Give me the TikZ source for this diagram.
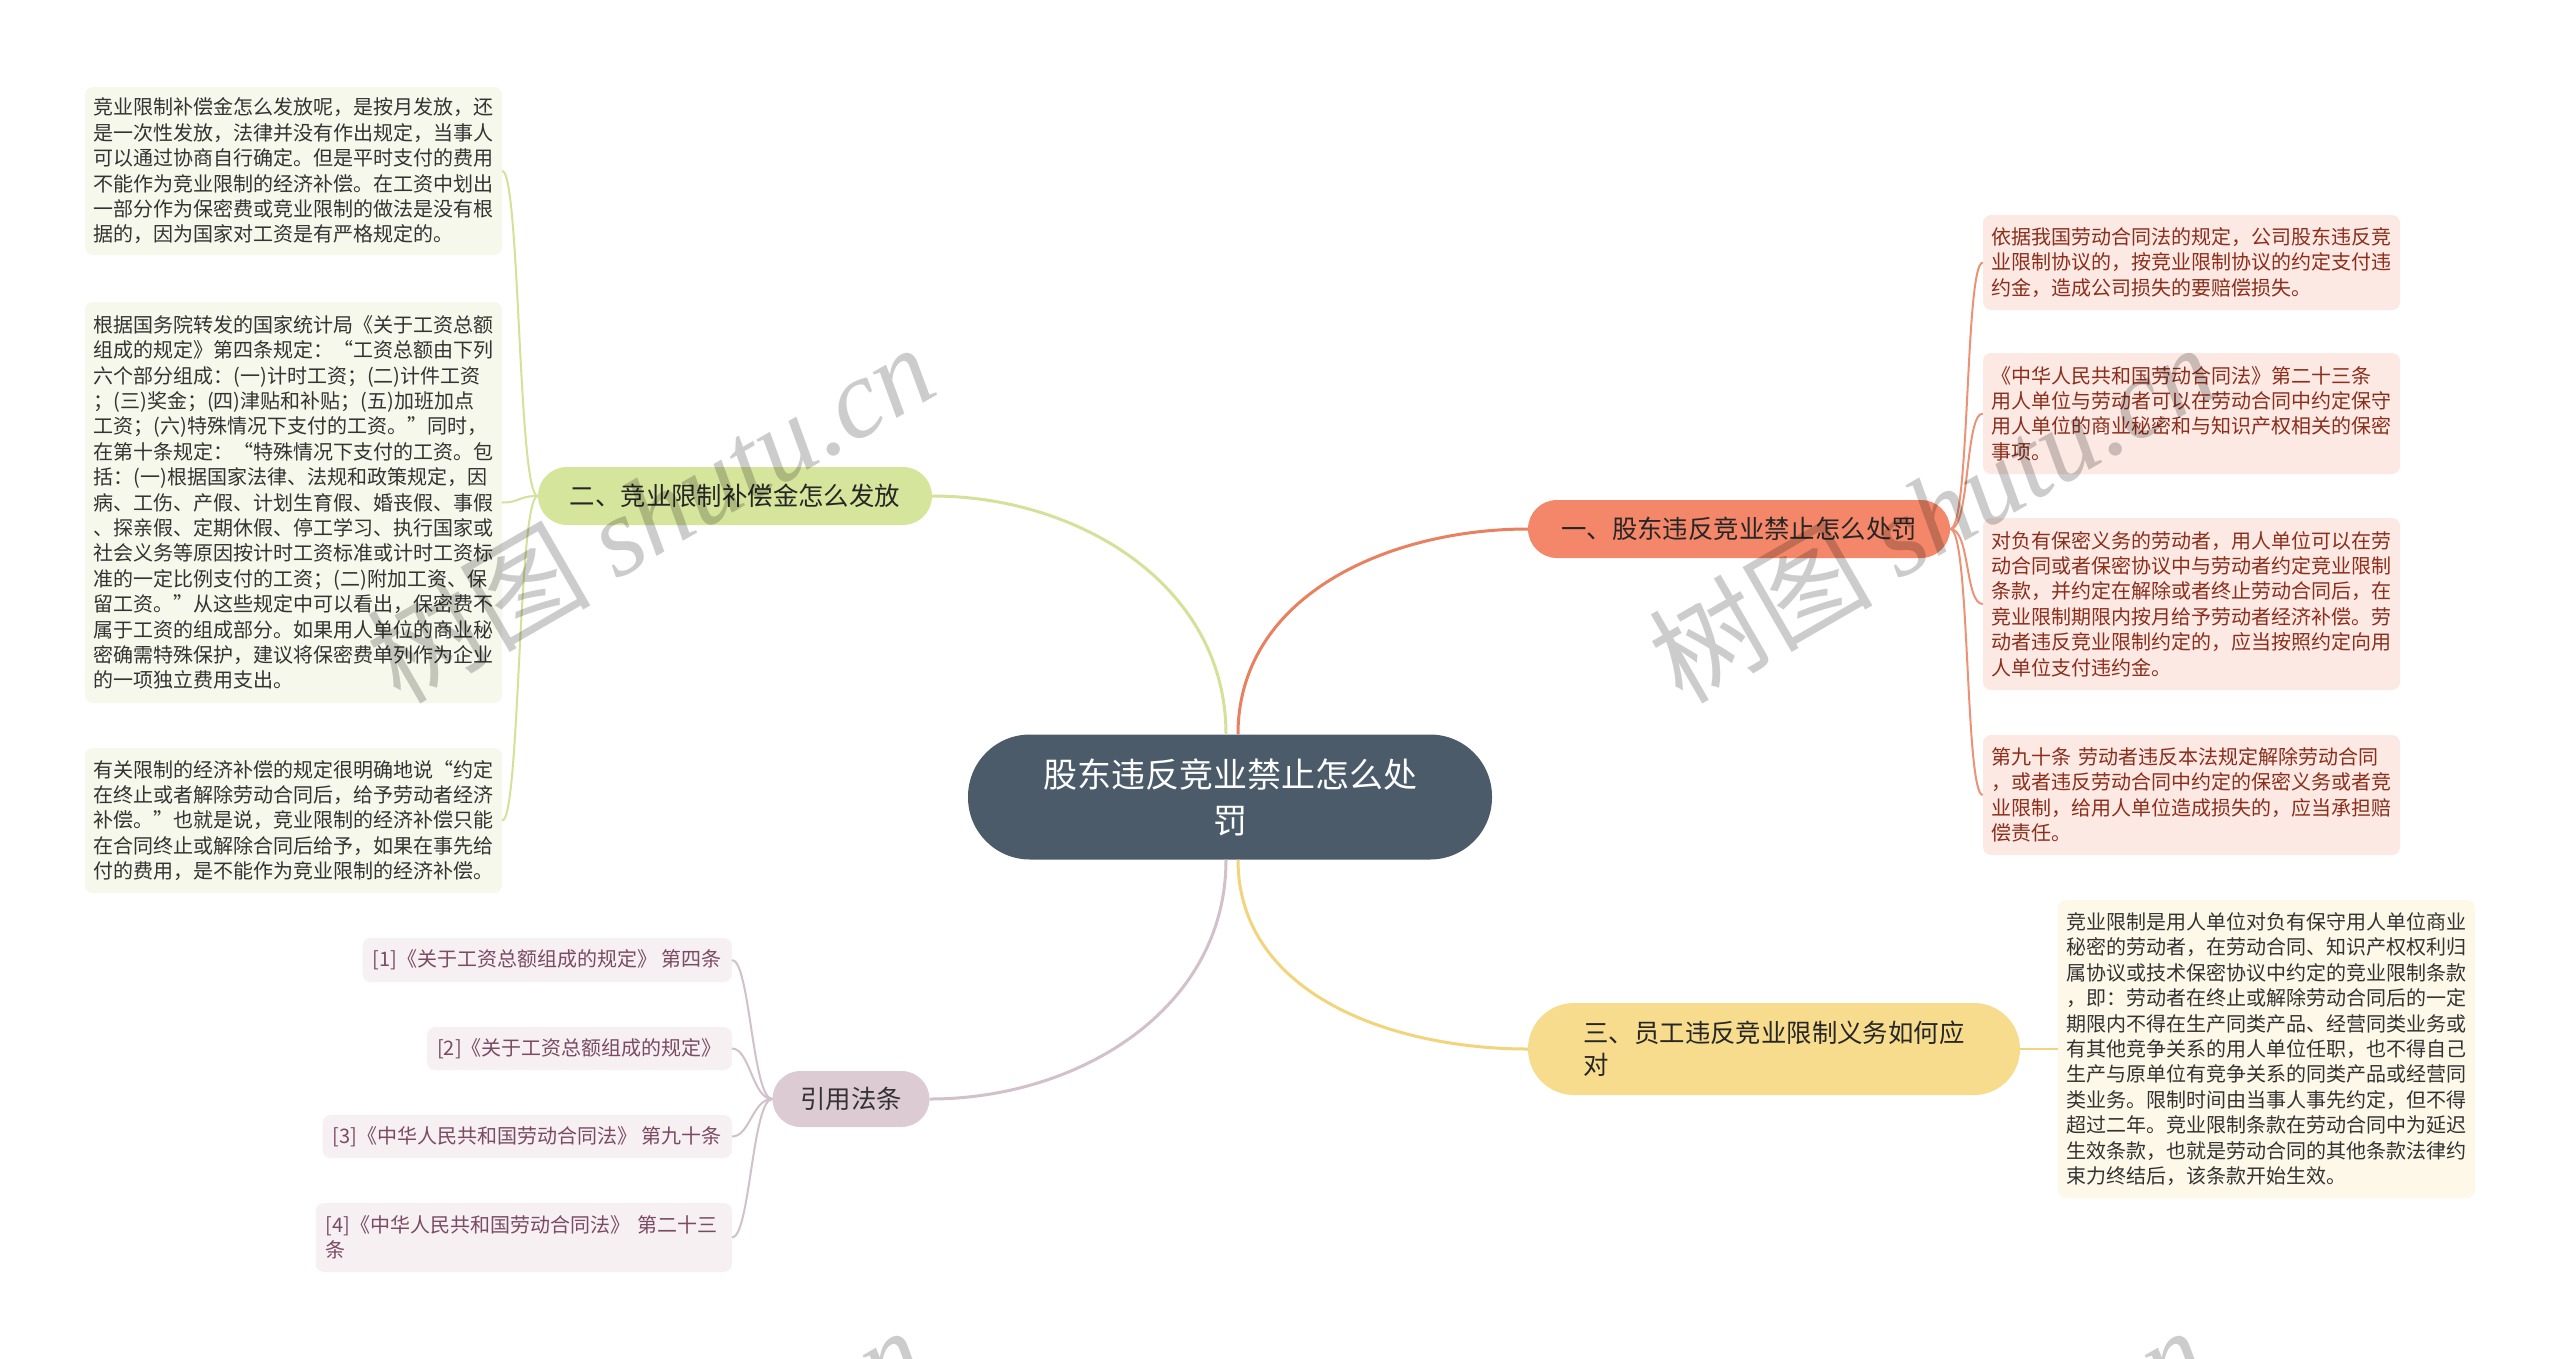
\documentclass[tikz,border=0pt]{standalone}
\usepackage{fontspec}
\setmainfont{Noto Sans CJK SC}
\newfontfamily\wmlatin{Liberation Serif}
\definecolor{centerfill}{HTML}{4B5B6A}
\definecolor{bonefill}{HTML}{F4876A}
\definecolor{btwofill}{HTML}{D6E59C}
\definecolor{bthreefill}{HTML}{F6DC8C}
\definecolor{bfourfill}{HTML}{DDCBD4}
\definecolor{lineone}{HTML}{E9805F}
\definecolor{linetwo}{HTML}{D3E199}
\definecolor{linethree}{HTML}{F2D47C}
\definecolor{linefour}{HTML}{D2C0CA}
\definecolor{greenleaf}{HTML}{F5F8EA}
\definecolor{pinkleaf}{HTML}{FCE9E4}
\definecolor{creamleaf}{HTML}{FEF8E9}
\definecolor{mauveleaf}{HTML}{F6F0F3}
\definecolor{darktext}{HTML}{333333}
\definecolor{redtext}{HTML}{8B2E1C}
\definecolor{mauvetext}{HTML}{7A4B62}
\tikzset{
  hub/.style={fill=centerfill, text=white, rounded corners=62pt, minimum width=524pt, minimum height=125pt, align=center, inner sep=0pt, font=\fontsize{34}{46}\selectfont},
  branch/.style={rounded corners=29pt, minimum height=58pt, inner sep=0pt, font=\fontsize{25.4}{32}\selectfont},
  leafbox/.style={rounded corners=8pt, inner xsep=8.5pt, inner ysep=0pt, text width=400pt, align=left, font=\fontsize{20}{25.4}\selectfont},
  gleaf/.style={leafbox, fill=greenleaf, text=darktext},
  pleaf/.style={leafbox, fill=pinkleaf, text=redtext},
  cleaf/.style={leafbox, fill=creamleaf, text=darktext},
  refbox/.style={rounded corners=8pt, inner xsep=10pt, inner ysep=0pt, fill=mauveleaf, text=mauvetext, align=left, anchor=east, font=\fontsize{20}{25.4}\selectfont},
  mainline/.style={line width=3pt},
  subline/.style={line width=2pt},
  wm/.style={text=black, opacity=0.2, font=\fontsize{112}{112}\selectfont, inner sep=0pt, rotate=30}
}
\begin{document}
\begin{tikzpicture}[x=1pt,y=-1pt]
\useasboundingbox (0,0) rectangle (2560,1358);
\fill[white] (0,0) rectangle (2560,1358);

% main node and branches
\node[hub] (c) at (1230,797) {股东违反竞业禁止怎么处\\罚};
\node[branch, fill=bonefill, text={black!85}, minimum width=422pt] (b1) at (1739,529) {一、股东违反竞业禁止怎么处罚};
\node[branch, fill=btwofill, text={black!85}, minimum width=394pt] (b2) at (735,496) {二、竞业限制补偿金怎么发放};
\node[branch, fill=bthreefill, text={black!85}, minimum width=492pt, minimum height=92pt, rounded corners=46pt, align=left] (b3) at (1774,1049) {三、员工违反竞业限制义务如何应\\对};
\node[branch, fill=bfourfill, text={black!80}, minimum width=157pt, minimum height=56pt, rounded corners=28pt] (b4) at (851,1099) {引用法条};

% main connectors
\draw[mainline, lineone] ([xshift=8pt]c.north) to[out=90,in=180] (b1.west);
\draw[mainline, linetwo] ([xshift=-4pt]c.north) to[out=90,in=0] (b2.east);
\draw[mainline, linethree] ([xshift=8pt]c.south) to[out=-90,in=180] (b3.west);
\draw[mainline, linefour] ([xshift=-4pt]c.south) to[out=-90,in=0] (b4.east);

% left leaves
\node[gleaf, minimum height=168pt] (l1) at (293.5,171) {竞业限制补偿金怎么发放呢，是按月发放，还\\是一次性发放，法律并没有作出规定，当事人\\可以通过协商自行确定。但是平时支付的费用\\不能作为竞业限制的经济补偿。在工资中划出\\一部分作为保密费或竞业限制的做法是没有根\\据的，因为国家对工资是有严格规定的。};
\node[gleaf, minimum height=401pt] (l2) at (293.5,502.5) {根据国务院转发的国家统计局《关于工资总额\\组成的规定》第四条规定：“工资总额由下列\\六个部分组成：(一)计时工资；(二)计件工资\\；(三)奖金；(四)津贴和补贴；(五)加班加点\\工资；(六)特殊情况下支付的工资。”同时，\\在第十条规定：“特殊情况下支付的工资。包\\括：(一)根据国家法律、法规和政策规定，因\\病、工伤、产假、计划生育假、婚丧假、事假\\、探亲假、定期休假、停工学习、执行国家或\\社会义务等原因按计时工资标准或计时工资标\\准的一定比例支付的工资；(二)附加工资、保\\留工资。”从这些规定中可以看出，保密费不\\属于工资的组成部分。如果用人单位的商业秘\\密确需特殊保护，建议将保密费单列作为企业\\的一项独立费用支出。};
\node[gleaf, minimum height=145pt] (l3) at (293.5,820.5) {有关限制的经济补偿的规定很明确地说“约定\\在终止或者解除劳动合同后，给予劳动者经济\\补偿。”也就是说，竞业限制的经济补偿只能\\在合同终止或解除合同后给予，如果在事先给\\付的费用，是不能作为竞业限制的经济补偿。};

% right leaves
\node[pleaf, minimum height=95pt] (r1) at (2191.5,262.5) {依据我国劳动合同法的规定，公司股东违反竞\\业限制协议的，按竞业限制协议的约定支付违\\约金，造成公司损失的要赔偿损失。};
\node[pleaf, minimum height=121pt] (r2) at (2191.5,413.5) {《中华人民共和国劳动合同法》第二十三条\\用人单位与劳动者可以在劳动合同中约定保守\\用人单位的商业秘密和与知识产权相关的保密\\事项。};
\node[pleaf, minimum height=172pt] (r3) at (2191.5,604) {对负有保密义务的劳动者，用人单位可以在劳\\动合同或者保密协议中与劳动者约定竞业限制\\条款，并约定在解除或者终止劳动合同后，在\\竞业限制期限内按月给予劳动者经济补偿。劳\\动者违反竞业限制约定的，应当按照约定向用\\人单位支付违约金。};
\node[pleaf, minimum height=120pt] (r4) at (2191.5,795) {第九十条 劳动者违反本法规定解除劳动合同\\，或者违反劳动合同中约定的保密义务或者竞\\业限制，给用人单位造成损失的，应当承担赔\\偿责任。};
\node[cleaf, minimum height=298pt] (r5) at (2266.5,1049) {竞业限制是用人单位对负有保守用人单位商业\\秘密的劳动者，在劳动合同、知识产权权利归\\属协议或技术保密协议中约定的竞业限制条款\\，即：劳动者在终止或解除劳动合同后的一定\\期限内不得在生产同类产品、经营同类业务或\\有其他竞争关系的用人单位任职，也不得自己\\生产与原单位有竞争关系的同类产品或经营同\\类业务。限制时间由当事人事先约定，但不得\\超过二年。竞业限制条款在劳动合同中为延迟\\生效条款，也就是劳动合同的其他条款法律约\\束力终结后，该条款开始生效。};

% references
\node[refbox, minimum height=44pt] (f1) at (732,960) {[1]《关于工资总额组成的规定》 第四条};
\node[refbox, minimum height=43pt] (f2) at (732,1048.5) {[2]《关于工资总额组成的规定》};
\node[refbox, minimum height=43pt] (f3) at (732,1136.5) {[3]《中华人民共和国劳动合同法》 第九十条};
\node[refbox, minimum height=69pt, text width=396pt] (f4) at (732,1237.5) {[4]《中华人民共和国劳动合同法》 第二十三\\条};

% leaf connectors
\foreach \n in {l1,l2,l3}{
  \draw[subline, linetwo] (b2.west) .. controls ([xshift=-20pt]b2.west) and ([xshift=18pt]\n.east) .. (\n.east);
}
\foreach \n in {r1,r2,r3,r4}{
  \draw[subline, lineone!85] (b1.east) .. controls ([xshift=20pt]b1.east) and ([xshift=-18pt]\n.west) .. (\n.west);
}
\draw[subline, linethree] (b3.east) -- (r5.west);
\foreach \n in {f1,f2,f3,f4}{
  \draw[subline, linefour] (b4.west) .. controls ([xshift=-20pt]b4.west) and ([xshift=18pt]\n.east) .. (\n.east);
}

% watermarks
\node[wm] (wm1) at (650,512) {树图 {\wmlatin\itshape shutu.cn}};
\node[wm] (wm2) at (1932,512) {树图 {\wmlatin\itshape shutu.cn}};
\node[wm] (wm3) at (640,1495) {树图 {\wmlatin\itshape shutu.cn}};
\node[wm] (wm4) at (1922,1495) {树图 {\wmlatin\itshape shutu.cn}};
\end{tikzpicture}
\end{document}
